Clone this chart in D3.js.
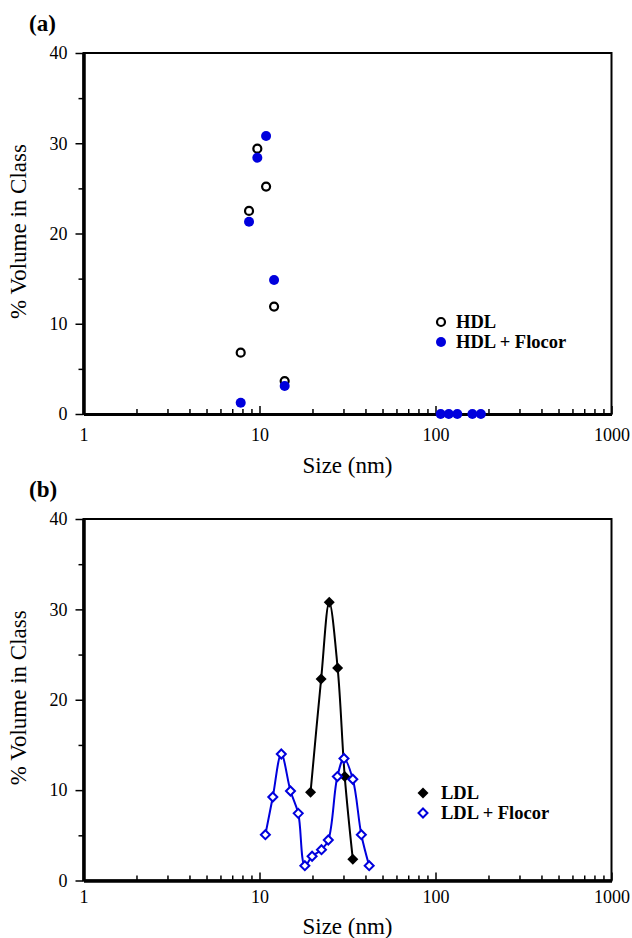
<!DOCTYPE html>
<meta charset="utf-8">
<style>
body { margin: 0; background: #fff; }
text { font-family: "Liberation Serif", "Times New Roman", serif; fill: #000; }
</style>
<svg width="632" height="938"></svg>
<script src="https://cdn.jsdelivr.net/npm/d3@7"></script>
<script>

// panel (a): HDL
var hdlSize = [7.82, 8.72, 9.72, 10.9, 12.1, 13.9];
var hdlVol = [6.8, 22.5, 29.4, 25.2, 11.9, 3.65];
var hdlFlocorSize = [7.82, 8.72, 9.72, 10.9, 12.1, 13.9, 107, 119, 133, 162, 181];
var hdlFlocorVol = [1.25, 21.3, 28.4, 30.8, 14.85, 3.1, 0, 0, 0, 0, 0];

// panel (b): LDL
var ldlSize = [19.5, 22.4, 24.9, 27.8, 30.5, 33.9];
var ldlVol = [9.76, 22.3, 30.8, 23.5, 11.5, 2.35];
var ldlFlocorSize = [10.8, 11.9, 13.3, 15.0, 16.6, 18.1, 19.9, 22.5, 24.6, 27.7, 30.2, 33.9, 37.9, 42.0];
var ldlFlocorVol = [5.07, 9.24, 14.0, 9.9, 7.43, 1.64, 2.68, 3.41, 4.48, 11.5, 13.5, 11.2, 5.07, 1.64];

var xTicks = [1, 10, 100, 1000];
var yTicks = [0, 10, 20, 30, 40];
var yMinor = [5, 15, 25, 35];

var blue = "#0000dd";
var svg = d3.select("svg");

var x = d3.scaleLog().domain([1, 1000]).range([83.5, 611.5]);

var xMinor = [];
[1, 10, 100].forEach(function(d) {
  for (var k = 2; k < 10; k++) xMinor.push(d * k);
});

function pairs(xs, ys) {
  return xs.map(function(d, i) { return [d, ys[i]]; });
}

function diamond(r) {
  return "M0," + (-r) + "L" + r + ",0L0," + r + "L" + (-r) + ",0Z";
}

function panel(top, bottom, label, pad, titleOff) {
  var y = d3.scaleLinear().domain([0, 40]).range([bottom, top]);
  var g = svg.append("g");

  // frame
  g.append("rect")
    .attr("x", x(1)).attr("y", top)
    .attr("width", x(1000) - x(1)).attr("height", bottom - top)
    .attr("fill", "none").attr("stroke", "#000").attr("stroke-width", 2);

  g.append("g").attr("transform", "translate(0," + bottom + ")")
    .call(d3.axisBottom(x).tickValues(xTicks).tickFormat(d3.format("d"))
      .tickSizeInner(-8).tickSizeOuter(0).tickPadding(pad));
  g.append("g").attr("transform", "translate(0," + bottom + ")")
    .call(d3.axisBottom(x).tickValues(xMinor).tickFormat("")
      .tickSizeInner(-5).tickSizeOuter(0));

  g.append("g").attr("transform", "translate(" + x(1) + ",0)")
    .call(d3.axisLeft(y).tickValues(yTicks).tickSizeInner(8).tickSizeOuter(0).tickPadding(8));
  g.append("g").attr("transform", "translate(" + x(1) + ",0)")
    .call(d3.axisLeft(y).tickValues(yMinor).tickFormat("").tickSizeInner(5).tickSizeOuter(0));

  g.selectAll(".domain").attr("stroke-width", 3);
  g.selectAll(".tick line").attr("stroke-width", 1.5);
  g.selectAll(".tick text").attr("font-size", 18)
    .attr("font-family", "Liberation Serif");

  g.append("text")
    .attr("x", 29).attr("y", top - 22)
    .attr("font-size", 23).attr("font-weight", "bold")
    .text(label);

  g.append("text")
    .attr("x", (x(1) + x(1000)) / 2).attr("y", bottom + titleOff)
    .attr("text-anchor", "middle").attr("font-size", 23)
    .text("Size (nm)");

  g.append("text")
    .attr("transform", "translate(26," + ((top + bottom) / 2 - 2) + ") rotate(-90)")
    .attr("text-anchor", "middle").attr("font-size", 23)
    .text("% Volume in Class");

  return { g: g, y: y };
}

// (a)
var pa = panel(53, 414, "(a)", 14, 59);
pa.g.selectAll(".hdl")
  .data(pairs(hdlSize, hdlVol))
  .enter().append("circle")
  .attr("cx", function(d) { return x(d[0]); })
  .attr("cy", function(d) { return pa.y(d[1]); })
  .attr("r", 4).attr("fill", "#fff")
  .attr("stroke", "#000").attr("stroke-width", 2.2);
pa.g.selectAll(".hdlf")
  .data(pairs(hdlFlocorSize, hdlFlocorVol))
  .enter().append("circle")
  .attr("cx", function(d) { return x(d[0]); })
  .attr("cy", function(d) { return pa.y(d[1]); })
  .attr("r", 5).attr("fill", blue);

var legA = pa.g.append("g").attr("transform", "translate(441,322)");
legA.append("circle").attr("r", 4).attr("fill", "#fff").attr("stroke", "#000").attr("stroke-width", 2.2);
legA.append("circle").attr("cy", 20).attr("r", 5).attr("fill", blue);
legA.append("text").attr("x", 15).attr("y", 6).attr("font-size", 18.5).attr("font-weight", "bold").text("HDL");
legA.append("text").attr("x", 15).attr("y", 26).attr("font-size", 18.5).attr("font-weight", "bold").text("HDL + Flocor");

// (b)
var pb = panel(519, 880.5, "(b)", 10, 53);
var line = d3.line()
  .x(function(d) { return x(d[0]); })
  .y(function(d) { return pb.y(d[1]); })
  .curve(d3.curveCatmullRom.alpha(0.5));

pb.g.append("path").datum(pairs(ldlSize, ldlVol))
  .attr("d", line).attr("fill", "none").attr("stroke", "#000").attr("stroke-width", 2);
pb.g.append("path").datum(pairs(ldlFlocorSize, ldlFlocorVol))
  .attr("d", line).attr("fill", "none").attr("stroke", blue).attr("stroke-width", 2);

pb.g.selectAll(".ldl")
  .data(pairs(ldlSize, ldlVol))
  .enter().append("path")
  .attr("transform", function(d) { return "translate(" + x(d[0]) + "," + pb.y(d[1]) + ")"; })
  .attr("d", diamond(5.5)).attr("fill", "#000");
pb.g.selectAll(".ldlf")
  .data(pairs(ldlFlocorSize, ldlFlocorVol))
  .enter().append("path")
  .attr("transform", function(d) { return "translate(" + x(d[0]) + "," + pb.y(d[1]) + ")"; })
  .attr("d", diamond(4.5)).attr("fill", "#fff").attr("stroke", blue).attr("stroke-width", 2);

var legB = pb.g.append("g").attr("transform", "translate(423,793)");
legB.append("path").attr("d", diamond(5.5)).attr("fill", "#000");
legB.append("path").attr("transform", "translate(0,20)").attr("d", diamond(4.5))
  .attr("fill", "#fff").attr("stroke", blue).attr("stroke-width", 2);
legB.append("text").attr("x", 18).attr("y", 6).attr("font-size", 18.5).attr("font-weight", "bold").text("LDL");
legB.append("text").attr("x", 18).attr("y", 26).attr("font-size", 18.5).attr("font-weight", "bold").text("LDL + Flocor");

</script>
